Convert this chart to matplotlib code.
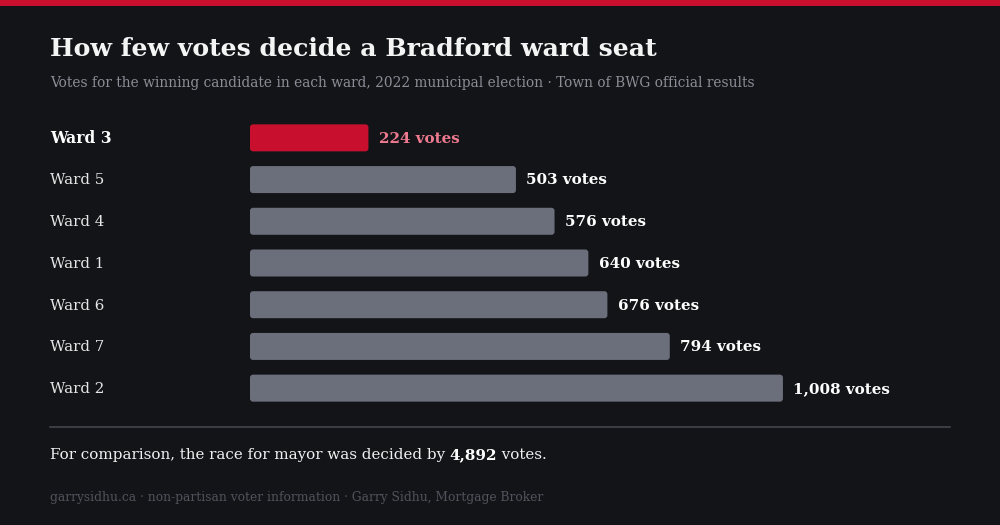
import matplotlib
matplotlib.use('Agg')
import matplotlib.pyplot as plt
import matplotlib.transforms as mtransforms
from matplotlib.patches import FancyBboxPatch, Rectangle
from matplotlib.lines import Line2D

wards = ['Ward 3', 'Ward 5', 'Ward 4', 'Ward 1', 'Ward 6', 'Ward 7', 'Ward 2']
votes = [224, 503, 576, 640, 676, 794, 1008]
highlight = 'Ward 3'
mayor_votes = 4892

title = 'How few votes decide a Bradford ward seat'
subtitle = ('Votes for the winning candidate in each ward, 2022 municipal election'
            ' \u00b7 Town of BWG official results')
footer = 'garrysidhu.ca \u00b7 non-partisan voter information \u00b7 Garry Sidhu, Mortgage Broker'

BG = '#131418'
RED = '#c8102e'
GREY_BAR = '#6b6f7b'
PINK = '#ee7a90'
FONT = 'DejaVu Serif'

W, H = 1000, 525


def fx(px):
    return px / W


def fy(px):
    return 1 - px / H


def main():
    plt.rcParams['font.family'] = FONT
    fig = plt.figure(figsize=(W / 100, H / 100), dpi=100, facecolor=BG)

    # red stripe on top
    fig.patches.append(Rectangle((0, fy(6)), 1, 6 / H, transform=fig.transFigure,
                                 facecolor=RED, edgecolor='none'))

    fig.text(fx(50), fy(49), title, fontsize=18.1, fontweight='bold', color='#f4f4f4',
             va='center', ha='left')
    fig.text(fx(50), fy(83), subtitle, fontsize=9.9, color='#8b8e97',
             va='center', ha='left')

    # bar area
    ax_left, ax_right = 250, 950
    ax_top, ax_bot = 117, 409
    ax = fig.add_axes([fx(ax_left), fy(ax_bot), (ax_right - ax_left) / W, (ax_bot - ax_top) / H])
    ax.set_facecolor(BG)
    xmax = 1324
    ax.set_xlim(0, xmax)
    ax.set_ylim(len(wards) - 0.5, -0.5)
    ax.axis('off')

    px_per_x = (ax_right - ax_left) / xmax
    px_per_y = (ax_bot - ax_top) / len(wards)
    bar_h = 27 / px_per_y
    radius = 3 / px_per_x

    label_tr = mtransforms.blended_transform_factory(fig.transFigure, ax.transData)

    for i, (w, v) in enumerate(zip(wards, votes)):
        hot = w == highlight
        box = FancyBboxPatch((0, i - bar_h / 2), v, bar_h,
                             boxstyle=f'round,pad=0,rounding_size={radius}',
                             mutation_aspect=px_per_x / px_per_y,
                             facecolor=RED if hot else GREY_BAR, edgecolor='none')
        ax.add_patch(box)
        ax.text(fx(50), i + 0.02, w, transform=label_tr, fontsize=11.2 if hot else 10.8,
                fontweight='bold' if hot else 'normal',
                color='#ffffff' if hot else '#e6e6e6', va='center', ha='left')
        ax.annotate(f'{v:,} votes', (v, i + 0.02), xytext=(7.5, 0), textcoords='offset points',
                    fontsize=10.9, fontweight='bold', color=PINK if hot else '#ffffff',
                    va='center', ha='left')

    fig.lines.append(Line2D([fx(50), fx(950)], [fy(427), fy(427)], transform=fig.transFigure,
                            color='#44464d', linewidth=1.2))

    cy = fy(455)
    t = fig.text(fx(50), cy, 'For comparison, the race for mayor was decided by ',
                 fontsize=10.9, color='#f0f0f0', va='center', ha='left')
    fig.canvas.draw()
    bb = t.get_window_extent()
    t2 = fig.text(bb.x1 / W, cy, f'{mayor_votes:,}', fontsize=10.9, fontweight='bold',
                  color='#ffffff', va='center', ha='left')
    fig.canvas.draw()
    bb2 = t2.get_window_extent()
    fig.text(bb2.x1 / W, cy, ' votes.', fontsize=10.9, color='#f0f0f0',
             va='center', ha='left')

    fig.text(fx(50), fy(498), footer, fontsize=8.85, color='#50535b', va='center', ha='left')

    fig.savefig('out.png', dpi=100, facecolor=BG)


if __name__ == '__main__':
    main()
